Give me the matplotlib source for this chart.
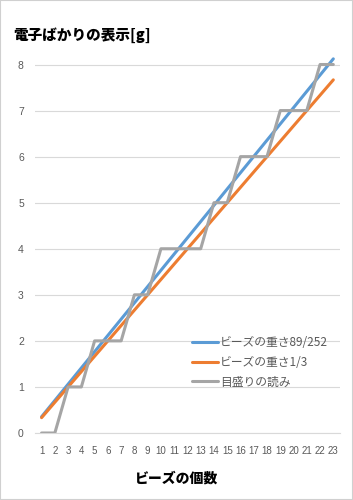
import matplotlib
matplotlib.use("Agg")
import matplotlib.pyplot as plt
from matplotlib.patches import Rectangle

plt.rcParams['font.family'] = ['Noto Sans CJK JP', 'DejaVu Sans']

counts = list(range(1, 24))
weight_89_252 = [0.353, 0.706, 1.060, 1.413, 1.766, 2.119, 2.472, 2.825, 3.179, 3.532, 3.885,
                 4.238, 4.591, 4.944, 5.298, 5.651, 6.004, 6.357, 6.710, 7.063, 7.417, 7.770, 8.123]
weight_1_3 = [0.333, 0.667, 1.0, 1.333, 1.667, 2.0, 2.333, 2.667, 3.0, 3.333, 3.667,
              4.0, 4.333, 4.667, 5.0, 5.333, 5.667, 6.0, 6.333, 6.667, 7.0, 7.333, 7.667]
scale_reading = [0, 0, 1, 1, 2, 2, 2, 3, 3, 4, 4, 4, 4, 5, 5, 6, 6, 6, 7, 7, 7, 8, 8]
y_ticks = [0, 1, 2, 3, 4, 5, 6, 7, 8]
series_labels = ['ビーズの重さ89/252', 'ビーズの重さ1/3', '目盛りの読み']
title = '電子ばかりの表示[g]'
xlabel = 'ビーズの個数'

fig = plt.figure(figsize=(3.53, 5.0), dpi=100)
ax = fig.add_axes([0.099, 0.134, 0.864, 0.760])

lw = 2.2
ax.plot(counts, weight_89_252, color='#5B9BD5', lw=lw, label=series_labels[0], solid_capstyle='round', zorder=3)
ax.plot(counts, weight_1_3, color='#ED7D31', lw=lw, label=series_labels[1], solid_capstyle='round', zorder=3)
ax.plot(counts, scale_reading, color='#A5A5A5', lw=lw, label=series_labels[2], solid_capstyle='round', zorder=4)

ax.set_xlim(0.5, 23.5)
ax.set_ylim(0, 8.25)
ax.set_yticks(y_ticks)
ax.set_xticks(counts)
ax.set_xticklabels([str(c) for c in counts], family=['Liberation Sans'], fontsize=7, color='#595959')
ax.set_yticklabels([str(t) for t in y_ticks], family=['Liberation Sans'], fontsize=7.5, color='#595959')
ax.tick_params(axis='both', length=0, pad=8)
ax.tick_params(axis='x', pad=9)
ax.grid(axis='y', color='#D9D9D9', lw=0.8)
ax.set_axisbelow(True)
for s in ['top', 'right', 'left']:
    ax.spines[s].set_visible(False)
ax.spines['bottom'].set_color('#D9D9D9')
ax.spines['bottom'].set_linewidth(0.8)

leg = ax.legend(loc='upper left', bbox_to_anchor=(0.515, 0.254), frameon=False,
                fontsize=8.5, handlelength=2.2, handletextpad=0.15, labelspacing=0.55,
                borderaxespad=0, borderpad=0)
for t in leg.get_texts():
    t.set_color('#595959')

fig.text(0.037, 0.93, title, fontsize=10.5, fontweight='black', ha='left', va='center')
fig.text(0.5, 0.042, xlabel, fontsize=10, fontweight='black', ha='center', va='center')

fig.patches.append(Rectangle((0, 0), 1, 1, transform=fig.transFigure, fill=False,
                             edgecolor='#D0D0D0', lw=1.5))

fig.savefig('out.png', dpi=100)
